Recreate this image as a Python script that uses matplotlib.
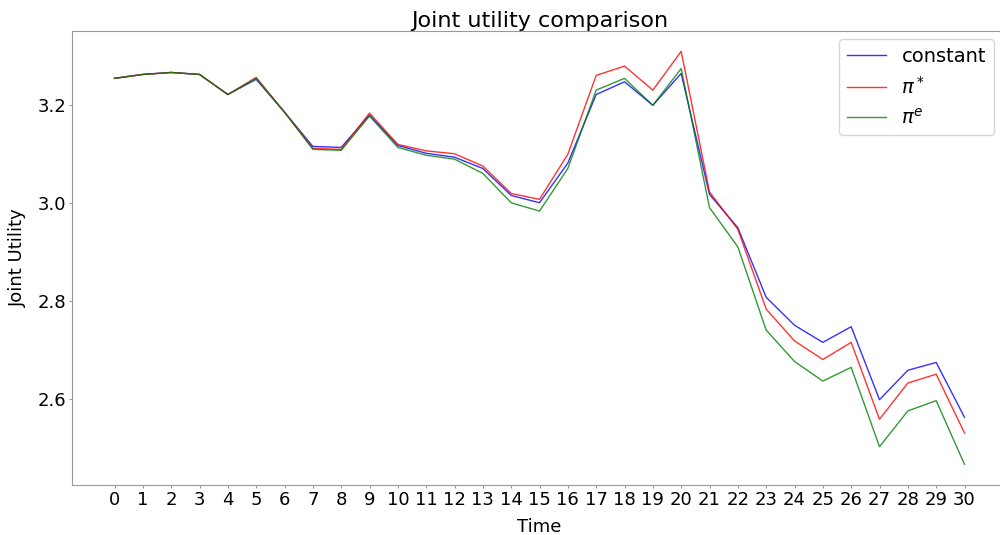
import matplotlib
matplotlib.use('Agg')
import matplotlib.pyplot as plt

time = list(range(31))

constant = [3.255, 3.263, 3.267, 3.263, 3.222, 3.253, 3.186, 3.116, 3.114, 3.180,
            3.118, 3.102, 3.094, 3.071, 3.016, 3.001, 3.082, 3.222, 3.248, 3.200,
            3.265, 3.018, 2.950, 2.808, 2.751, 2.716, 2.748, 2.599, 2.659, 2.675,
            2.563]
pi_star = [3.255, 3.263, 3.267, 3.263, 3.222, 3.257, 3.186, 3.112, 3.110, 3.184,
           3.120, 3.107, 3.101, 3.076, 3.020, 3.008, 3.100, 3.261, 3.280, 3.231,
           3.310, 3.023, 2.947, 2.784, 2.719, 2.681, 2.716, 2.559, 2.633, 2.651,
           2.531]
pi_e = [3.255, 3.263, 3.267, 3.263, 3.222, 3.255, 3.186, 3.110, 3.108, 3.178,
        3.114, 3.098, 3.090, 3.061, 3.001, 2.984, 3.071, 3.231, 3.255, 3.200,
        3.275, 2.991, 2.911, 2.741, 2.677, 2.637, 2.665, 2.503, 2.576, 2.597,
        2.467]

fig = plt.figure(figsize=(10, 5.35), dpi=100)
ax = fig.add_axes([0.072, 0.0935, 0.935, 0.849])

ax.plot(time, constant, color='blue', lw=1, alpha=0.8, label='constant')
ax.plot(time, pi_star, color='red', lw=1, alpha=0.8, label=r'$\pi^*$')
ax.plot(time, pi_e, color='green', lw=1, alpha=0.8, label=r'$\pi^{e}$')

ax.set_xticks(time)
ax.set_yticks([2.6, 2.8, 3.0, 3.2])
ax.tick_params(labelsize=13, length=2, pad=2, colors='#999999', labelcolor='black')
for s in ax.spines.values():
    s.set_color('#999999')

ax.set_title('Joint utility comparison', fontsize=16, pad=3)
ax.set_xlabel('Time', fontsize=13, labelpad=7)
ax.set_ylabel('Joint Utility', fontsize=13, labelpad=8)
ax.legend(fontsize=14, loc='upper right', bbox_to_anchor=(0.99, 0.99),
          handlelength=2.0, borderaxespad=0.2)

plt.savefig('out.png')
